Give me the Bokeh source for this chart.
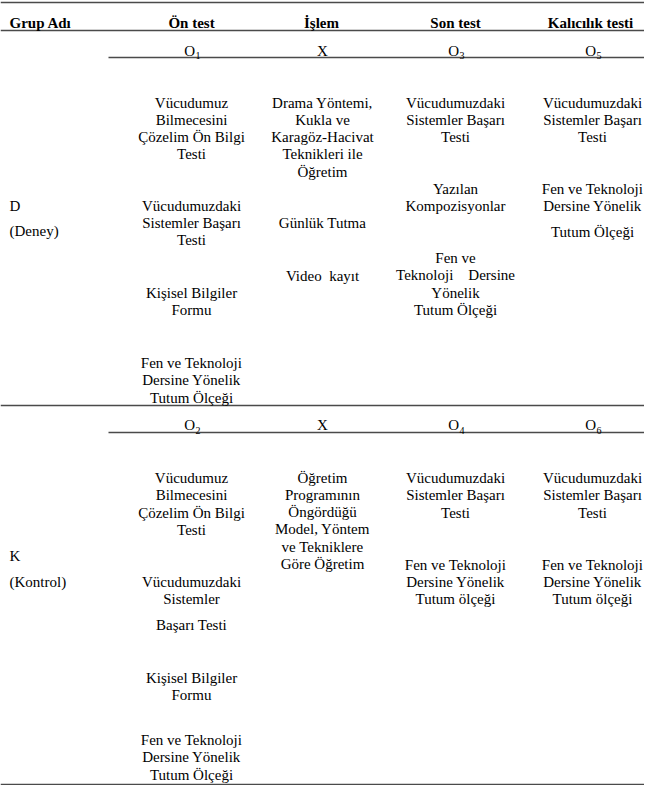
from bokeh.plotting import figure
from bokeh.models import Range1d, ColumnDataSource
from bokeh.core.properties import value
from bokeh.embed import file_html
from bokeh.resources import INLINE

# ---------------- data (texts) ----------------
headers = ["Grup Adı", "Ön test", "İşlem", "Son test", "Kalıcılık testi"]
group_deney = ["D", "(Deney)"]
group_kontrol = ["K", "(Kontrol)"]

deney_codes = ["O", "X", "O", "O"]
deney_subs = ["1", "", "3", "5"]
kontrol_codes = ["O", "X", "O", "O"]
kontrol_subs = ["2", "", "4", "6"]

deney_on_test = [["Vücudumuz", "Bilmecesini", "Çözelim Ön Bilgi", "Testi"],
                 ["Vücudumuzdaki", "Sistemler Başarı", "Testi"],
                 ["Kişisel Bilgiler", "Formu"],
                 ["Fen ve Teknoloji", "Dersine Yönelik", "Tutum Ölçeği"]]
deney_islem = [["Drama Yöntemi,", "Kukla ve", "Karagöz-Hacivat", "Teknikleri ile", "Öğretim"],
               ["Günlük Tutma"],
               ["Video\u00a0 kayıt"]]
deney_son = [["Vücudumuzdaki", "Sistemler Başarı", "Testi"],
             ["Yazılan", "Kompozisyonlar"],
             ["Fen ve", "Teknoloji\u00a0\u00a0\u00a0 Dersine", "Yönelik", "Tutum Ölçeği"]]
deney_kalici = [["Vücudumuzdaki", "Sistemler Başarı", "Testi"],
                ["Fen ve Teknoloji", "Dersine Yönelik"],
                ["Tutum Ölçeği"]]

kontrol_on_test = [["Vücudumuz", "Bilmecesini", "Çözelim Ön Bilgi", "Testi"],
                   ["Vücudumuzdaki", "Sistemler"],
                   ["Başarı Testi"],
                   ["Kişisel Bilgiler", "Formu"],
                   ["Fen ve Teknoloji", "Dersine Yönelik", "Tutum Ölçeği"]]
kontrol_islem = [["Öğretim", "Programının", "Öngördüğü", "Model, Yöntem", "ve Tekniklere", "Göre Öğretim"]]
kontrol_son = [["Vücudumuzdaki", "Sistemler Başarı", "Testi"],
               ["Fen ve Teknoloji", "Dersine Yönelik", "Tutum ölçeği"]]
kontrol_kalici = [["Vücudumuzdaki", "Sistemler Başarı", "Testi"],
                  ["Fen ve Teknoloji", "Dersine Yönelik", "Tutum ölçeği"]]

# ---------------- layout (positions, pixel-like units) ----------------
W, H = 644, 785
X0, Y0 = 0, 2
hdr_x = [9, 191, 321, 455, 590]
col_x = [191, 322, 455, 592]
hdr_y = 24
step = 17.25
deney_obs_y = 52
kontrol_obs_y = 426.5
deney_starts = [[104, 207, 294, 364.5], [104, 224, 277], [104, 190, 259.5], [104, 190, 233.5]]
kontrol_starts = [[479.5, 583, 626.5, 679.5, 741.5], [479], [479.5, 566], [479.5, 566]]
deney_group_y = [207, 232]
kontrol_group_y = [557, 583]

FONT = value("Liberation Serif")
FS = "15px"

p = figure(width=W, height=H, output_backend="svg", toolbar_location=None,
           x_range=Range1d(X0, X0 + W), y_range=Range1d(Y0 + H, Y0),
           x_axis_location=None, y_axis_location=None, min_border=0,
           background_fill_color="white", border_fill_color="white")
p.outline_line_color = None
p.xgrid.grid_line_color = None
p.ygrid.grid_line_color = None

# rules
rule_x0 = [0, 0, 108, 0, 108, 0]
rule_x1 = [660, 660, 660, 660, 660, 660]
rule_y = [4, 32, 59, 407, 434, 786]
p.segment(x0=rule_x0, x1=rule_x1, y0=rule_y, y1=rule_y, line_color="#4a4a4a", line_width=1.5)

# header
p.text(x=hdr_x[:1], y=[hdr_y], text=headers[:1], text_font=FONT, text_font_size=FS,
       text_font_style="bold", text_align="left", text_baseline="middle", text_color="black")
p.text(x=hdr_x[1:], y=[hdr_y] * 4, text=headers[1:], text_font=FONT, text_font_size=FS,
       text_font_style="bold", text_align="center", text_baseline="middle", text_color="black")

# body text
bx, by, bt = [], [], []
def add(blocks_per_col, starts_per_col):
    for cx, blocks, starts in zip(col_x, blocks_per_col, starts_per_col):
        for lines, y0 in zip(blocks, starts):
            for i, t in enumerate(lines):
                bx.append(cx); by.append(y0 + i * step); bt.append(t)

add([deney_on_test, deney_islem, deney_son, deney_kalici], deney_starts)
add([kontrol_on_test, kontrol_islem, kontrol_son, kontrol_kalici], kontrol_starts)
p.text(x="x", y="y", text="t", source=ColumnDataSource(dict(x=bx, y=by, t=bt)),
       text_font=FONT, text_font_size=FS, text_align="center", text_baseline="middle",
       text_color="black")

# group labels
gx = [9] * 4
gy = deney_group_y + kontrol_group_y
gt = group_deney + group_kontrol
p.text(x=gx, y=gy, text=gt, text_font=FONT, text_font_size=FS, text_align="left",
       text_baseline="middle", text_color="black")

# observation codes with subscripts
cx_main, cy_main, ct_main, ca_main = [], [], [], []
sx, sy, st = [], [], []
for codes, subs, yy in [(deney_codes, deney_subs, deney_obs_y), (kontrol_codes, kontrol_subs, kontrol_obs_y)]:
    for cx, c, s in zip(col_x, codes, subs):
        if s:
            cx_main.append(cx + 3.5); ca_main.append("right")
            sx.append(cx + 4); sy.append(yy + 5); st.append(s)
        else:
            cx_main.append(cx); ca_main.append("center")
        cy_main.append(yy); ct_main.append(c)
p.text(x="x", y="y", text="t", text_align="a",
       source=ColumnDataSource(dict(x=cx_main, y=cy_main, t=ct_main, a=ca_main)),
       text_font=FONT, text_font_size=FS, text_baseline="middle", text_color="black")
p.text(x=sx, y=sy, text=st, text_font=FONT, text_font_size="10px", text_align="left",
       text_baseline="middle", text_color="black")

open("out.html", "w").write(file_html(p, INLINE))
